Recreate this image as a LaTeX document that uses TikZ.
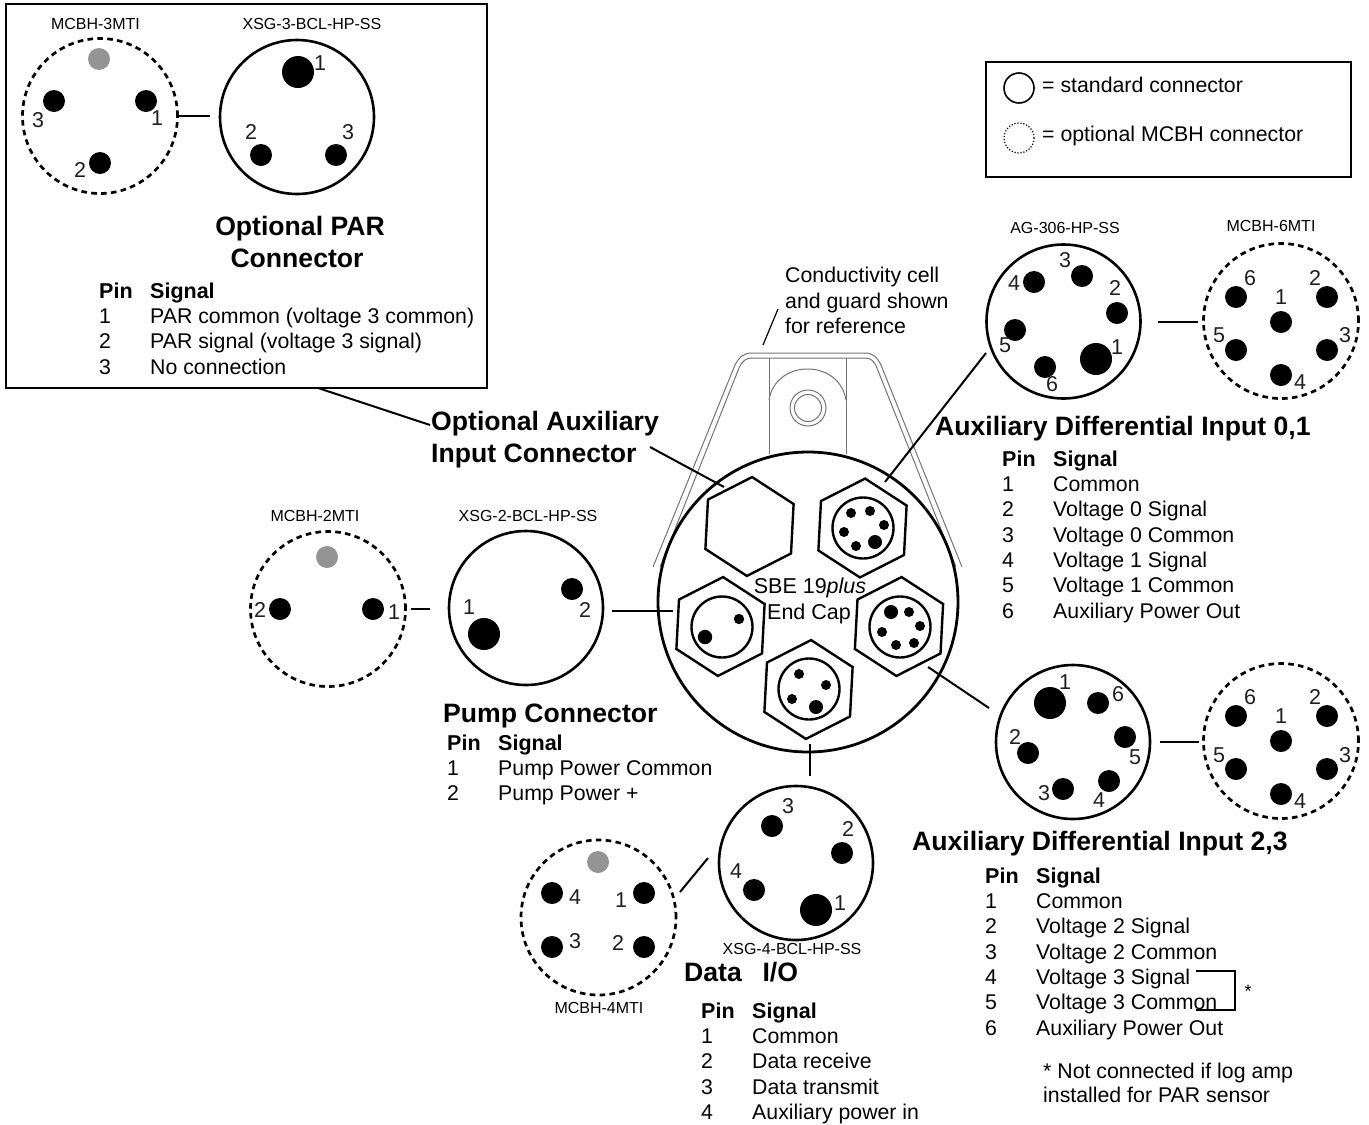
\documentclass[tikz,border=0pt]{standalone}
\usepackage{fontspec}
\setmainfont{Liberation Sans}
\usepackage{tikz}
\usetikzlibrary{shapes.geometric,positioning}

\tikzset{
  conn/.style={circle,draw=black,line width=2.6pt,fill=white,minimum size=154pt,inner sep=0pt,outer sep=0pt},
  mcbh/.style={conn,line width=2.7pt,minimum size=155pt,dash pattern=on 5.6pt off 4.3pt},
  hexnut/.style={regular polygon,regular polygon sides=6,rotate=27,draw=black,line width=2.4pt,minimum size=99pt,inner sep=0pt,outer sep=0pt},
  socket/.style={circle,draw=black,line width=2.4pt,minimum size=61pt,inner sep=0pt,outer sep=0pt},
  leader/.style={draw=black,line width=2pt},
  lbl/.style={anchor=west,inner sep=0pt,text height=14.5pt,text depth=0pt,font=\fontsize{21.3}{24}\selectfont},
  partno/.style={inner sep=0pt,text height=13pt,text depth=0pt,font=\fontsize{16}{18}\selectfont},
  pinlbl/.style={inner sep=0pt,text height=15pt,text depth=0pt,text=black!88,font=\fontsize{21.5}{22}\selectfont},
  heading/.style={anchor=west,inner sep=0pt,text height=19pt,text depth=0pt,font=\fontsize{26.6}{28}\selectfont\bfseries},
  thead/.style={lbl,font=\fontsize{21.5}{24}\selectfont\bfseries},
  guard/.style={draw=black!55,line width=1pt}
}

\newcommand{\pindots}[1]{\foreach \x/\y/\r in {#1} \fill (\x,\y) circle (\r pt);}
\newcommand{\pinlabels}[2]{\foreach \x/\y/\t in {#2} \node[pinlbl] (#1\t) at (\x,\y) {\t};}
\newcommand{\pintable}[4]{
  \node[thead] (#1pin) at (#2,#3) {Pin};
  \node[thead] (#1sig) at (#2+51,#3) {Signal};
  \foreach \t [count=\k] in {#4} {
    \node[lbl] (#1n\k) at (#2,#3+\k*25.3) {\k};
    \node[lbl] (#1s\k) at (#2+51,#3+\k*25.3) {\t};
  }
}

\begin{document}
\begin{tikzpicture}[x=1pt,y=-1pt]
  \useasboundingbox (0,0) rectangle (1369,1125);

  % par box
  \node[draw=black,line width=2pt,minimum width=481pt,minimum height=384pt,inner sep=0pt,outer sep=0pt] (parbox) at (246.5,196) {};
  \node[mcbh] (mcbhthree) at (100,116) {};
  \node[conn] (xsgthree) at (297,117) {};
  \node[partno] (mcbhthreename) at (95.5,23) {MCBH-3MTI};
  \node[partno] (xsgthreename) at (312,23) {XSG-3-BCL-HP-SS};
  \fill[black!42] (99,59) circle (11pt);
  \pindots{54/101/11,146/101/11,100/163/11,298/72/16,261/155/11,336/155/11}
  \pinlabels{mcbhthree}{157/118/1,80/170/2,38/120/3}
  \pinlabels{xsgthree}{320/63/1,251/132/2,348/132/3}
  \draw[leader,shorten >=10pt] (mcbhthree.east) -- (mcbhthree.east -| xsgthree.west);
  \node[heading,anchor=center] (partitlea) at (300,226) {Optional PAR};
  \node[heading,anchor=center] (partitleb) at (297,258) {Connector};
  \pintable{par}{99}{291}{PAR common (voltage 3 common),PAR signal (voltage 3 signal),No connection}

  % legend
  \node[draw=black,line width=2pt,minimum width=365pt,minimum height=115pt,inner sep=0pt,outer sep=0pt] (legend) at (1168.5,119.5) {};
  \node[circle,draw=black,line width=1.6pt,minimum size=30pt,inner sep=0pt] (legstd) at (1019,88) {};
  \node[circle,draw=black,line width=1.2pt,dash pattern=on 1.2pt off 1.8pt,minimum size=30pt,inner sep=0pt] (legopt) at (1019,138) {};
  \node[lbl] (legstdtxt) at (1042,85) {= standard connector};
  \node[lbl] (legopttxt) at (1042,134) {= optional MCBH connector};

  % conductivity cell and guard, behind the end cap
  \draw[guard] (653,567) -- (735,365) .. controls (739,357) and (744,353) .. (752,353)
    -- (865,353) .. controls (873,353) and (877,357) .. (881,365) -- (962,567);
  \draw[guard] (660,567) -- (739,368) .. controls (742,361) and (746,358) .. (752,358)
    -- (865,358) .. controls (871,358) and (874,361) .. (877,368) -- (956,567);
  \draw[guard] (769,358) -- (769,454);
  \draw[guard] (846,358) -- (846,454);
  \draw[guard] (769,400) .. controls (772,381) and (788,369) .. (807.5,369) .. controls (827,369) and (843,381) .. (846,400);
  \node[circle,guard,minimum size=36pt,inner sep=0pt] (bolto) at (808,408) {};
  \node[circle,guard,minimum size=27pt,inner sep=0pt] (bolti) at (808,408) {};
  \node[lbl] (condcella) at (785,275) {Conductivity cell};
  \node[lbl] (condcellb) at (785,301) {and guard shown};
  \node[lbl] (condcellc) at (785,326) {for reference};
  \coordinate (condtop) at (778,309);
  \coordinate (condbot) at (763,345);
  \draw[black,line width=1.2pt] (condtop) -- (condbot);

  % end cap
  \node[circle,draw=black,line width=2.8pt,fill=white,minimum size=300pt,inner sep=0pt,outer sep=0pt] (endcap) at (808,602) {};
  \node[hexnut] (hexaux) at (749.5,526.5) {};
  \node[hexnut] (hexdiffa) at (862.5,528) {};
  \node[hexnut] (hexpump) at (720.5,626.5) {};
  \node[hexnut] (hexdiffb) at (899,626.5) {};
  \node[hexnut] (hexdata) at (808.5,689.5) {};
  \node[socket] (sockdiffa) at (863,528) {};
  \node[socket] (sockpump) at (722,627) {};
  \node[socket] (sockdiffb) at (900,627) {};
  \node[socket] (sockdata) at (809,689) {};
  \pindots{851/513/5,870/511/5,884/525/5,844/532/5,856/546/5,875/542/7}
  \pindots{739/619/5.2,705/637/7.2}
  \pindots{891/612/7,909/612/5,920/626/5,882/632/5,896/645/5,914/643/5}
  \pindots{799/674/5,826/685/5,792/699/5,816/707/7}
  \node[lbl,anchor=center] (capa) at (810,586) {\fontsize{21.5}{24}\selectfont SBE 19\textit{plus}};
  \node[lbl,anchor=center] (capb) at (809,612) {\fontsize{21.5}{24}\selectfont End Cap};

  % optional auxiliary
  \node[heading] (auxtitlea) at (431,421) {Optional Auxiliary};
  \node[heading] (auxtitleb) at (431,453) {Input Connector};
  \coordinate (parfoot) at (318,388);
  \coordinate (auxlefta) at (430,425);
  \coordinate (auxleftb) at (650,447);
  \coordinate (auxhex) at (724,487);
  \draw[leader] (parfoot) -- (auxlefta);
  \draw[leader] (auxleftb) -- (auxhex);

  % differential 0,1
  \node[conn] (agsix) at (1063.5,321.5) {};
  \node[mcbh] (mcbhsixa) at (1281,321) {};
  \node[partno] (agsixname) at (1065,227) {AG-306-HP-SS};
  \node[partno] (mcbhsixaname) at (1271,225) {MCBH-6MTI};
  \pindots{1096/359/16,1117/313/11,1082/276/11,1034/282/11,1015/330/11,1045/367/11}
  \pinlabels{agsix}{1117/347/1,1115/288/2,1065/260/3,1014/283/4,1005/345/5,1052/384/6}
  \pindots{1236/297/11,1327/297/11,1281/322/11,1236/350/11,1327/350/11,1281/375/11}
  \pinlabels{mcbhsixa}{1281/297/1,1315/278/2,1345/335/3,1300/382/4,1219/335/5,1250/278/6}
  \draw[leader,shorten <=17pt,shorten >=6pt] (agsix.east) -- (agsix.east -| mcbhsixa.west);
  \coordinate (diffahex) at (885,482);
  \coordinate (diffaend) at (986,353);
  \draw[leader] (diffahex) -- (diffaend);
  \node[heading] (diffatitle) at (935,426) {Auxiliary Differential Input 0,1};
  \pintable{diffa}{1002}{459}{Common,Voltage 0 Signal,Voltage 0 Common,Voltage 1 Signal,Voltage 1 Common,Auxiliary Power Out}

  % differential 2,3
  \node[conn] (agsixb) at (1073,742) {};
  \node[mcbh] (mcbhsixb) at (1281,741) {};
  \pindots{1050/703/16,1098/703/11,1125/737/11,1028/753/11,1063/789/11,1109/781/11}
  \pinlabels{agsixb}{1065/682/1,1015/737/2,1044/793/3,1099/800/4,1135/757/5,1118/694/6}
  \pindots{1236/716/11,1327/716/11,1281/741/11,1236/769/11,1327/769/11,1281/794/11}
  \pinlabels{mcbhsixb}{1281/716/1,1315/697/2,1345/755/3,1300/801/4,1219/755/5,1250/697/6}
  \draw[leader,shorten <=10pt,shorten >=5pt] (agsixb.east) -- (agsixb.east -| mcbhsixb.west);
  \coordinate (diffbhex) at (928,667);
  \coordinate (diffbend) at (989,708);
  \draw[leader] (diffbhex) -- (diffbend);
  \node[heading] (diffbtitle) at (912,841) {Auxiliary Differential Input 2,3};
  \pintable{diffb}{985}{876}{Common,Voltage 2 Signal,Voltage 2 Common,Voltage 3 Signal,Voltage 3 Common,Auxiliary Power Out}
  \coordinate (brkta) at (1196,971);
  \coordinate (brktb) at (1196,1010);
  \draw[leader,line width=1.6pt] (brkta) -| (1235,1010) -- (brktb);
  \node[lbl,anchor=center,font=\fontsize{18}{20}\selectfont] (brktstar) at (1248,990) {*};
  \node[lbl] (notea) at (1043,1071) {* Not connected if log amp};
  \node[lbl] (noteb) at (1043,1095) {installed for PAR sensor};

  % pump
  \node[conn] (xsgtwo) at (526,608) {};
  \node[mcbh] (mcbhtwo) at (328,609) {};
  \node[partno] (mcbhtwoname) at (315,515) {MCBH-2MTI};
  \node[partno] (xsgtwoname) at (528,515) {XSG-2-BCL-HP-SS};
  \fill[black!42] (327,557) circle (11pt);
  \pindots{280/609/11,373/609/11,484/634/16,572/589/11}
  \pinlabels{mcbhtwo}{394/612/1,260/610/2}
  \pinlabels{xsgtwo}{469/607/1,585/610/2}
  \draw[leader,shorten <=5pt,shorten >=19pt] (mcbhtwo.east) -- (mcbhtwo.east -| xsgtwo.west);
  \coordinate (pumpleft) at (612,611);
  \coordinate (pumpright) at (673,611);
  \draw[leader] (pumpleft) -- (pumpright);
  \node[heading] (pumptitle) at (443,713) {Pump Connector};
  \pintable{pump}{447}{743}{Pump Power Common,Pump Power +}

  % data i/o
  \node[conn] (xsgfour) at (796,863) {};
  \node[mcbh] (mcbhfour) at (598.5,917.5) {};
  \node[partno] (xsgfourname) at (792,948) {XSG-4-BCL-HP-SS};
  \node[partno] (mcbhfourname) at (599,1007) {MCBH-4MTI};
  \fill[black!42] (598,862) circle (11pt);
  \pindots{816/910/16,842/853/11,772/826/11,754/890/11,552/893/11,644/893/11,552/947/11,644/947/11}
  \pinlabels{xsgfour}{840/903/1,848/829/2,788/806/3,736/871/4}
  \pinlabels{mcbhfour}{621/900/1,618/943/2,575/941/3,575/897/4}
  \coordinate (datatop) at (810,744);
  \coordinate (datalow) at (810,776);
  \draw[leader] (datatop) -- (datalow);
  \coordinate (fourleft) at (680,892);
  \coordinate (fourright) at (708,858);
  \draw[leader] (fourleft) -- (fourright);
  \node[heading] (datatitle) at (684,972) {Data\hspace{.5em} I/O};
  \pintable{data}{701}{1011}{Common,Data receive,Data transmit,Auxiliary power in}
\end{tikzpicture}
\end{document}
